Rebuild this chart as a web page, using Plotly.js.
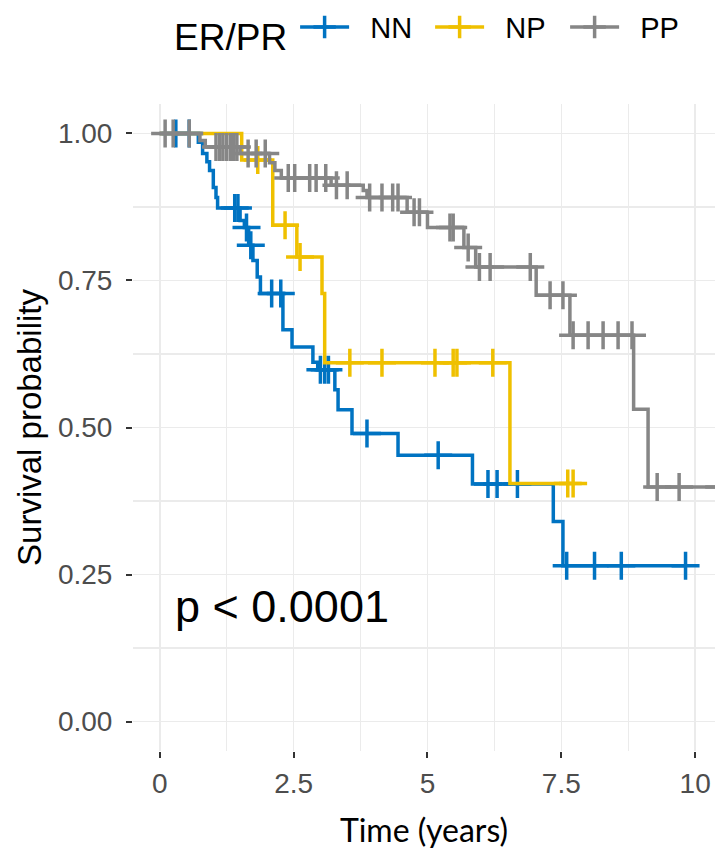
<!DOCTYPE html>
<html>
<head>
<meta charset="utf-8">
<script src="https://cdn.plot.ly/plotly-3.0.1.min.js"></script>
<style>html,body{margin:0;padding:0;background:#fff;}#chart{width:715px;height:857px;}</style>
</head>
<body>
<div id="chart"></div>
<script>
// ---- Data (time in years, survival probability) ----
const groups = ["NN", "NP", "PP"];
const colors = ["#0073C2", "#EFC000", "#868686"];

// NN: event times and survival after each event
const nnEventTime = [0.72, 0.80, 0.88, 0.93, 1.00, 1.05, 1.08, 1.50, 1.58, 1.66, 1.74, 1.82, 1.88, 2.30, 2.47, 2.86, 2.95, 3.27, 3.33, 3.59, 4.45, 5.84, 7.35, 7.53];
const nnEventSurv = [0.985, 0.966, 0.952, 0.937, 0.908, 0.891, 0.873, 0.852, 0.840, 0.810, 0.784, 0.756, 0.728, 0.666, 0.637, 0.611, 0.598, 0.564, 0.530, 0.490, 0.453, 0.404, 0.340, 0.265];
const nnCensorTime = [0.30, 0.55, 1.40, 1.46, 1.62, 1.70, 2.09, 2.26, 3.00, 3.08, 3.15, 3.87, 5.20, 6.13, 6.30, 6.68, 7.60, 8.12, 8.62, 9.82];

// NP
const npEventTime = [1.53, 2.11, 2.56, 3.03, 3.08, 6.54];
const npEventSurv = [0.955, 0.844, 0.790, 0.728, 0.610, 0.405];
const npCensorTime = [1.83, 2.34, 2.62, 3.55, 4.15, 5.14, 5.48, 5.55, 6.22, 7.62, 7.72];

// PP
const ppEventTime = [0.75, 0.85, 1.50, 2.05, 2.15, 2.27, 3.20, 3.80, 3.87, 4.62, 5.00, 5.68, 5.90, 7.03, 7.66, 8.85, 9.12];
const ppEventSurv = [0.988, 0.977, 0.966, 0.950, 0.937, 0.924, 0.912, 0.903, 0.891, 0.866, 0.840, 0.806, 0.773, 0.725, 0.657, 0.531, 0.399];
const ppCensorTime = [0.10, 0.25, 0.55, 1.05, 1.12, 1.18, 1.25, 1.32, 1.38, 1.44, 1.65, 1.80, 1.97, 2.40, 2.52, 2.80, 2.92, 3.10, 3.30, 3.50, 3.92, 4.15, 4.35, 4.45, 4.75, 4.85, 5.42, 5.48, 5.76, 5.97, 6.17, 6.92, 7.29, 7.53, 7.72, 8.00, 8.28, 8.56, 8.82, 9.29, 9.70, 10.45];

const xTickVals = [0, 2.5, 5, 7.5, 10];
const xTickText = ["0", "2.5", "5", "7.5", "10"];
const yTickVals = [0, 0.25, 0.5, 0.75, 1];
const yTickText = ["0.00", "0.25", "0.50", "0.75", "1.00"];
const pValueText = "p < 0.0001";
const legendTitle = "ER/PR";

// ---- build traces ----
const evT = [nnEventTime, npEventTime, ppEventTime];
const evS = [nnEventSurv, npEventSurv, ppEventSurv];
const ceT = [nnCensorTime, npCensorTime, ppCensorTime];

function survAt(times, survs, t) {
  let s = 1;
  for (let i = 0; i < times.length; i++) { if (times[i] <= t) s = survs[i]; }
  return s;
}

const LW = 3.5, MS = 20;
const traces = [];
groups.forEach((g, k) => {
  const t = evT[k], s = evS[k], c = ceT[k];
  const lastT = Math.max(t[t.length - 1], c[c.length - 1]);
  const lx = [0].concat(t, [lastT]);
  const ly = [1].concat(s, [survAt(t, s, lastT)]);
  traces.push({
    x: lx, y: ly, type: "scatter", mode: "lines",
    line: {shape: "hv", color: colors[k], width: LW},
    showlegend: false, hoverinfo: "skip", legendgroup: g
  });
  traces.push({
    x: c, y: c.map(tt => survAt(t, s, tt)), type: "scatter", mode: "markers",
    marker: {symbol: "cross-thin-open", size: MS, color: colors[k], line: {color: colors[k], width: LW}},
    showlegend: false, hoverinfo: "skip", legendgroup: g
  });
});
// legend-only entries (leading no-break spaces give the gap between symbol and label)
groups.forEach((g, k) => {
  traces.push({
    x: [null], y: [null], type: "scatter", mode: "lines+markers", name: "\u00a0\u00a0" + g, legendgroup: g,
    line: {color: colors[k], width: LW},
    marker: {symbol: "cross-thin-open", size: 18, color: colors[k], line: {color: colors[k], width: LW}}
  });
});

const gridC = "#EBEBEB";
const layout = {
  width: 715, height: 857,
  margin: {l: 133, r: 0, t: 104, b: 106},
  paper_bgcolor: "#fff", plot_bgcolor: "#fff",
  font: {family: "Liberation Sans, Arial, sans-serif", color: "#000"},
  showlegend: true,
  legend: {
    orientation: "h", xref: "container", yref: "container",
    x: 0.2406, y: 0.998, xanchor: "left", yanchor: "top",
    title: {text: legendTitle, side: "left", font: {size: 37, color: "#000"}},
    font: {size: 29, color: "#000"},
    entrywidth: 71, entrywidthmode: "pixels",
    itemwidth: 49, bgcolor: "rgba(0,0,0,0)"
  },
  xaxis: {
    range: [-0.5, 10.37], tickmode: "array", tickvals: xTickVals, ticktext: xTickText,
    showgrid: true, gridcolor: gridC, gridwidth: 1.5, zeroline: false, showline: false,
    ticks: "outside", ticklen: 6, tickwidth: 2, tickcolor: "#333",
    tickfont: {size: 28, color: "#4D4D4D"}, ticklabelstandoff: 1,
    minor: {tickmode: "array", tickvals: [1.25, 3.75, 6.25, 8.75], showgrid: true, gridcolor: gridC, gridwidth: 1.2, ticks: ""},
    title: {text: "Time (years)", font: {family: "Lato, Open Sans, sans-serif", size: 32, color: "#000"}, standoff: 22},
    fixedrange: true
  },
  yaxis: {
    range: [-0.05, 1.05], tickmode: "array", tickvals: yTickVals, ticktext: yTickText,
    showgrid: true, gridcolor: gridC, gridwidth: 1.5, zeroline: false, showline: false,
    ticks: "outside", ticklen: 6, tickwidth: 2, tickcolor: "#333",
    tickfont: {size: 28, color: "#4D4D4D"}, ticklabelstandoff: 8,
    minor: {tickmode: "array", tickvals: [0.125, 0.375, 0.625, 0.875], showgrid: true, gridcolor: gridC, gridwidth: 1.2, ticks: ""},
    title: {text: "Survival probability", font: {size: 33, color: "#000"}, standoff: 6},
    fixedrange: true
  },
  annotations: [{
    text: pValueText, x: 0.25, y: 0.195, xref: "x", yref: "y",
    xanchor: "left", yanchor: "middle", showarrow: false,
    font: {size: 45, color: "#000", family: "Liberation Sans, Arial, sans-serif"}
  }]
};

Plotly.newPlot("chart", traces, layout, {displayModeBar: false, staticPlot: true});
</script>
</body>
</html>
